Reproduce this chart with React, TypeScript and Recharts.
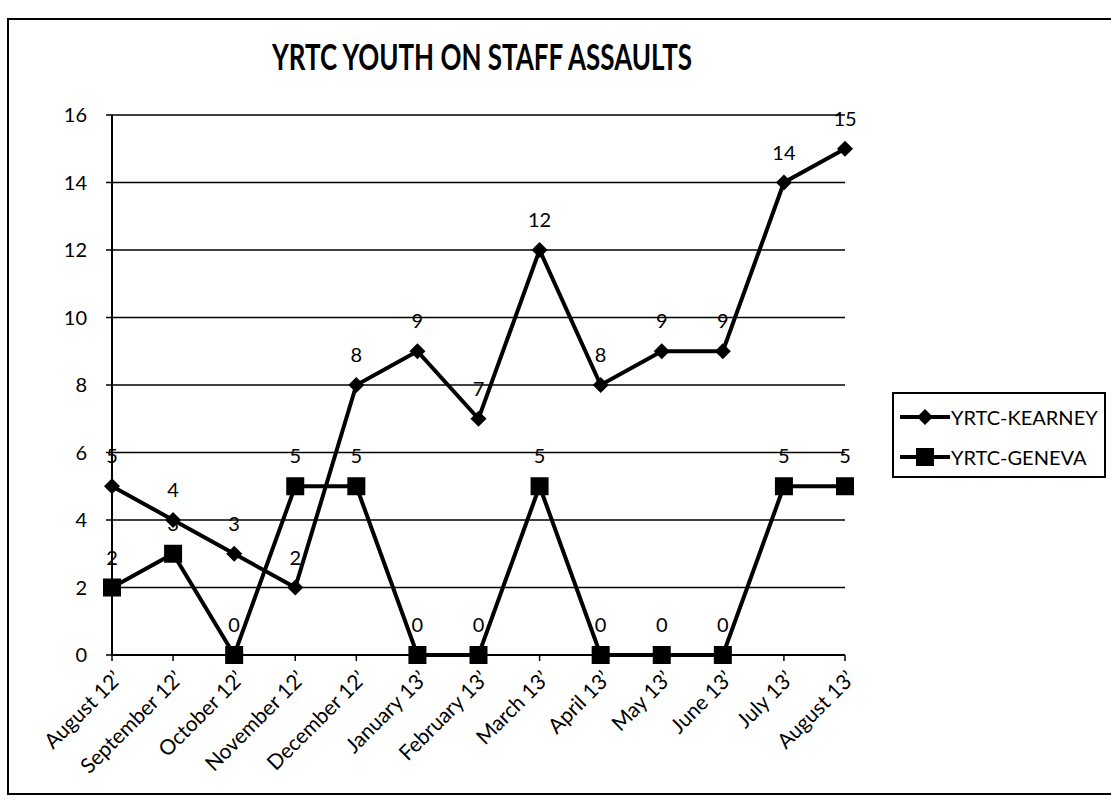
import { LineChart, Line, XAxis, YAxis, CartesianGrid, Legend, LabelList } from "recharts"

const months = [
  "August 12’",
  "September 12’",
  "October 12’",
  "November 12’",
  "December 12’",
  "January 13’",
  "February 13’",
  "March 13’",
  "April 13’",
  "May 13’",
  "June 13’",
  "July 13’",
  "August 13’",
]
const kearney = [5, 4, 3, 2, 8, 9, 7, 12, 8, 9, 9, 14, 15]
const geneva = [2, 3, 0, 5, 5, 0, 0, 5, 0, 0, 0, 5, 5]
const yTicks = [0, 2, 4, 6, 8, 10, 12, 14, 16]

const data = months.map((month, i) => ({
  month,
  kearney: kearney[i],
  geneva: geneva[i],
}))

const FONT = "Lato, 'Open Sans', sans-serif"

const diamond = (props: any) => {
  const { cx, cy, index } = props
  if (cx == null || cy == null) return <g key={index} />
  const r = 8
  return (
    <polygon
      key={index}
      points={`${cx},${cy - r} ${cx + r},${cy} ${cx},${cy + r} ${cx - r},${cy}`}
      fill="#000"
    />
  )
}

const square = (props: any) => {
  const { cx, cy, index } = props
  if (cx == null || cy == null) return <g key={index} />
  const s = 18
  return <rect key={index} x={cx - s / 2} y={cy - s / 2} width={s} height={s} fill="#000" />
}

const pointLabel = (props: any) => {
  const { x, y, value } = props
  return (
    <text x={x} y={y - 23} textAnchor="middle" fontSize={20} fontFamily={FONT} fill="#000">
      {value}
    </text>
  )
}

const MonthTick = (props: any) => {
  const { x, y, payload } = props
  return (
    <g transform={`translate(${x + 11},${y + 17})`}>
      <text x={0} y={0} textAnchor="end" transform="rotate(-45)" fontSize={21} fontFamily={FONT} fill="#000">
        {payload.value}
      </text>
    </g>
  )
}

const legendItems = [
  { name: "YRTC-KEARNEY", marker: "diamond" },
  { name: "YRTC-GENEVA", marker: "square" },
]

const renderLegend = () => (
  <div
    style={{
      width: 214,
      height: 86,
      border: "2px solid #000",
      boxSizing: "border-box",
      background: "#fff",
      paddingTop: 3,
      paddingLeft: 6,
    }}
  >
    {legendItems.map((item) => (
      <div key={item.name} style={{ display: "flex", alignItems: "center", height: 40 }}>
        <svg width={50} height={20}>
          <line x1={0} y1={10} x2={50} y2={10} stroke="#000" strokeWidth={4} />
          {item.marker === "diamond" ? (
            <polygon points="25,2 33,10 25,18 17,10" fill="#000" />
          ) : (
            <rect x={16} y={1} width={18} height={18} fill="#000" />
          )}
        </svg>
        <span style={{ fontSize: 20, fontFamily: FONT, color: "#000", marginLeft: 1 }}>{item.name}</span>
      </div>
    ))}
  </div>
)

export default function App() {
  return (
    <div style={{ position: "absolute", left: 0, top: 0, width: 1111, height: 805, background: "#fff", fontFamily: FONT }}>
      <div
        style={{
          position: "absolute",
          left: 7,
          top: 18,
          width: 1110,
          height: 777,
          border: "2px solid #000",
          boxSizing: "border-box",
        }}
      />
      <svg style={{ position: "absolute", left: 0, top: 0 }} width={1111} height={100}>
        <text x={272} y={70} textLength={420} lengthAdjust="spacingAndGlyphs" fontSize={37} fontWeight={700} fontFamily={FONT} fill="#000">
          YRTC YOUTH ON STAFF ASSAULTS
        </text>
      </svg>
      <div style={{ position: "absolute", left: 0, top: 0 }}>
        <LineChart width={1111} height={805} data={data} margin={{ top: 115, right: 266, bottom: 0, left: 0 }}>
          <CartesianGrid vertical={false} stroke="#000" strokeWidth={1.5} />
          <XAxis
            dataKey="month"
            interval={0}
            height={150}
            tick={<MonthTick />}
            tickSize={6}
            axisLine={{ stroke: "#000", strokeWidth: 2 }}
            tickLine={{ stroke: "#000", strokeWidth: 1.5 }}
          />
          <YAxis
            width={112}
            domain={[0, 16]}
            ticks={yTicks}
            tickSize={6}
            tickMargin={19}
            axisLine={{ stroke: "#000", strokeWidth: 2 }}
            tickLine={{ stroke: "#000", strokeWidth: 1.5 }}
            tick={{ fill: "#000", fontSize: 20, fontFamily: FONT }}
          />
          <Legend
            layout="vertical"
            align="center"
            verticalAlign="middle"
            content={renderLegend}
            wrapperStyle={{ position: "absolute", left: 892, top: 392, width: 214, height: 86 }}
          />
          <Line
            dataKey="kearney"
            name="YRTC-KEARNEY"
            stroke="#000"
            strokeWidth={4}
            dot={diamond}
            activeDot={false}
            isAnimationActive={false}
          >
            <LabelList dataKey="kearney" content={pointLabel} />
          </Line>
          <Line
            dataKey="geneva"
            name="YRTC-GENEVA"
            stroke="#000"
            strokeWidth={4}
            dot={square}
            activeDot={false}
            isAnimationActive={false}
          >
            <LabelList dataKey="geneva" content={pointLabel} />
          </Line>
        </LineChart>
      </div>
    </div>
  )
}
